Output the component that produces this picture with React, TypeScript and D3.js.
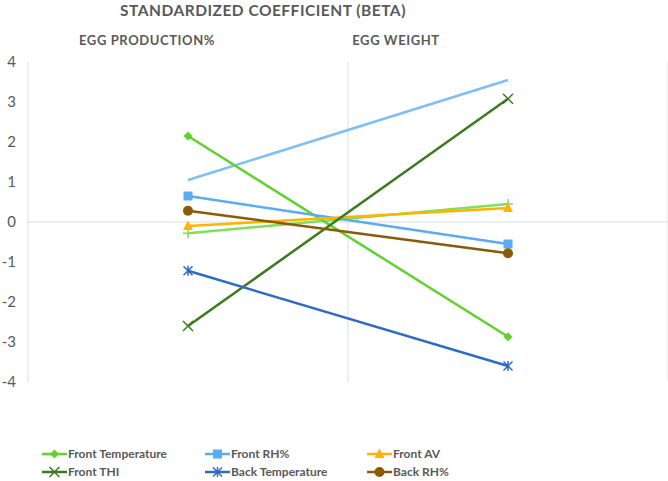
import * as d3 from "d3";

const categories = ["EGG PRODUCTION%", "EGG WEIGHT"];
const yTicks = [4, 3, 2, 1, 0, -1, -2, -3, -4];

const seriesNames = [
  "Front Temperature",
  "Front RH%",
  "Front AV",
  "Front THI",
  "Back Temperature",
  "Back RH%",
];
const frontTemperature = [2.15, -2.87];
const frontRH = [0.65, -0.55];
const frontAV = [-0.1, 0.35];
const frontTHI = [-2.6, 3.08];
const backTemperature = [-1.22, -3.6];
const backRH = [0.28, -0.78];
// two more series are drawn but have no legend entry
const extraBlue = [1.05, 3.55];
const extraGreen = [-0.28, 0.45];

type Marker = "diamond" | "square" | "triangle" | "x" | "star" | "circle" | "plus" | "none";
type Series = { name: string; values: number[]; color: string; marker: Marker; legend: boolean };

const series: Series[] = [
  { name: "extra1", values: extraBlue, color: "#7cc0f6", marker: "none", legend: false },
  { name: "extra2", values: extraGreen, color: "#7fe05a", marker: "plus", legend: false },
  { name: seriesNames[0], values: frontTemperature, color: "#5fd32c", marker: "diamond", legend: true },
  { name: seriesNames[1], values: frontRH, color: "#58acf2", marker: "square", legend: true },
  { name: seriesNames[2], values: frontAV, color: "#ffb300", marker: "triangle", legend: true },
  { name: seriesNames[3], values: frontTHI, color: "#3c7a1e", marker: "x", legend: true },
  { name: seriesNames[4], values: backTemperature, color: "#2d6cc6", marker: "star", legend: true },
  { name: seriesNames[5], values: backRH, color: "#8a5a06", marker: "circle", legend: true },
];

function MarkerShape({ type, color, x, y }: { type: Marker; color: string; x: number; y: number }) {
  const s = 4.5;
  switch (type) {
    case "diamond":
      return <path d={`M${x},${y - s}L${x + s},${y}L${x},${y + s}L${x - s},${y}Z`} fill={color} />;
    case "square":
      return <rect x={x - 4.5} y={y - 4.5} width={9} height={9} fill={color} />;
    case "triangle":
      return <path d={`M${x},${y - 5.5}L${x + 5},${y + 4}L${x - 5},${y + 4}Z`} fill={color} />;
    case "circle":
      return <circle cx={x} cy={y} r={5} fill={color} />;
    case "x":
      return (
        <path d={`M${x - 5},${y - 5}L${x + 5},${y + 5}M${x + 5},${y - 5}L${x - 5},${y + 5}`} stroke={color} strokeWidth={1.5} />
      );
    case "star":
      return (
        <path
          d={`M${x - 4.5},${y - 4.5}L${x + 4.5},${y + 4.5}M${x + 4.5},${y - 4.5}L${x - 4.5},${y + 4.5}M${x},${y - 5}L${x},${y + 5}`}
          stroke={color}
          strokeWidth={1.5}
        />
      );
    case "plus":
      return <path d={`M${x - 5},${y}L${x + 5},${y}M${x},${y - 5}L${x},${y + 5}`} stroke={color} strokeWidth={1.5} />;
    default:
      return null;
  }
}

export default function App() {
  const width = 668;
  const height = 481;
  const left = 28;
  const right = 668;
  const top = 62;
  const bottom = 382;

  const x = d3.scaleBand(categories, [left, right]);
  const y = d3.scaleLinear([-4, 4], [bottom, top]);
  const cx = (i: number) => (x(categories[i]) ?? 0) + x.bandwidth() / 2;
  const line = d3
    .line<number>()
    .x((_, i) => cx(i))
    .y((d) => y(d));

  const legendItems = series.filter((s) => s.legend);
  const legendX = [42, 205, 367];
  const legendY = [454, 472];
  const textColor = "#595959";
  const font = "Lato, sans-serif";

  return (
    <svg width={width} height={height} style={{ position: "absolute", left: 0, top: 0 }} fontFamily={font}>
      <text x={263} y={16} textAnchor="middle" fontSize={15.5} fontWeight={700} fill={textColor} letterSpacing={0.5}>
        STANDARDIZED COEFFICIENT (BETA)
      </text>
      <text x={147} y={45} textAnchor="middle" fontSize={13} fontWeight={700} fill={textColor} letterSpacing={0.6}>
        {categories[0]}
      </text>
      <text x={396} y={45} textAnchor="middle" fontSize={13} fontWeight={700} fill={textColor} letterSpacing={0.6}>
        {categories[1]}
      </text>

      {/* grid */}
      <g stroke="#d9dfdf" strokeWidth={1}>
        <line x1={left} x2={left} y1={top} y2={bottom} />
        {categories.map((c) => (
          <line key={c} x1={(x(c) ?? 0) + x.bandwidth()} x2={(x(c) ?? 0) + x.bandwidth()} y1={top} y2={bottom} />
        ))}
        <line x1={left} x2={right} y1={y(0)} y2={y(0)} />
      </g>

      {yTicks.map((t) => (
        <text key={t} x={16} y={y(t)} dy="0.35em" textAnchor="end" fontSize={15} fill={textColor}>
          {t}
        </text>
      ))}

      {series.map((s) => (
        <g key={s.name}>
          <path d={line(s.values) ?? undefined} fill="none" stroke={s.color} strokeWidth={2.5} />
          {s.values.map((v, i) => (
            <MarkerShape key={i} type={s.marker} color={s.color} x={cx(i)} y={y(v)} />
          ))}
        </g>
      ))}

      {legendItems.map((s, i) => {
        const lx = legendX[i % 3];
        const ly = legendY[Math.floor(i / 3)];
        return (
          <g key={s.name}>
            <line x1={lx} x2={lx + 25} y1={ly} y2={ly} stroke={s.color} strokeWidth={2.5} />
            <MarkerShape type={s.marker} color={s.color} x={lx + 12.5} y={ly} />
            <text x={lx + 26} y={ly} dy="0.35em" fontSize={12} fontWeight={700} fill={textColor}>
              {s.name}
            </text>
          </g>
        );
      })}
    </svg>
  );
}
